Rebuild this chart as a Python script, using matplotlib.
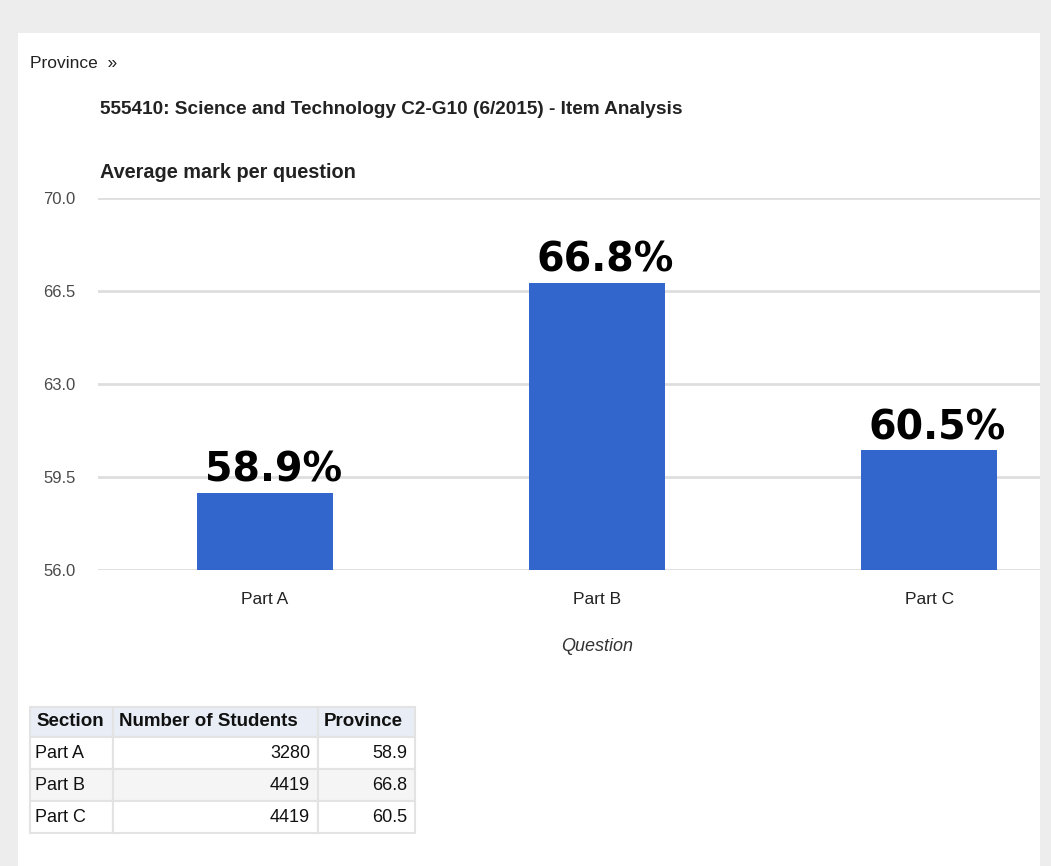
import matplotlib.pyplot as plt
from matplotlib.patches import Rectangle
import numpy as np

# data
categories = ["Part A", "Part B", "Part C"]
avg_marks = [58.9, 66.8, 60.5]
num_students = [3280, 4419, 4419]
y_ticks = [56.0, 59.5, 63.0, 66.5, 70.0]
table_header = ["Section", "Number of Students", "Province"]

W, H = 1051, 866
sans = "Liberation Sans"

fig = plt.figure(figsize=(W / 100, H / 100), dpi=100)
fig.patch.set_facecolor("#ededed")


def px_box(x0, y0, x1, y1):
    # pixel box (top-left origin) -> figure fraction rect
    return [x0 / W, 1 - y1 / H, (x1 - x0) / W, (y1 - y0) / H]


# white page panel
fig.patches.append(Rectangle((18 / W, 0), (1040 - 18) / W, 1 - 33 / H,
                             transform=fig.transFigure, facecolor="white",
                             edgecolor="none", zorder=-5))

fig.text(30 / W, 1 - 63 / H, "Province  \u00bb", fontsize=12.5, family=sans,
         color="#222222", va="center", ha="left")
fig.text(100 / W, 1 - 110 / H,
         "555410: Science and Technology C2-G10 (6/2015) - Item Analysis",
         fontsize=13.7, family=sans, weight="bold", color="#222222",
         va="center", ha="left")
fig.text(100 / W, 1 - 173 / H, "Average mark per question", fontsize=14.3,
         family=sans, weight="bold", color="#222222", va="center", ha="left")

# bar chart
ax = fig.add_axes(px_box(98, 198, 1040, 570))
ax.set_facecolor("none")
x = np.arange(len(categories))
ax.bar(x, avg_marks, width=0.41, color="#3366cc", zorder=3)
ax.set_ylim(56, 70)
ax.set_xlim(-0.503, 2.334)
ax.set_yticks(y_ticks)
ax.set_yticklabels([f"{v:.1f}" for v in y_ticks], family=sans,
                   fontsize=12, color="#4a4a4a")
ax.set_xticks(x)
ax.set_xticklabels(categories, family=sans, fontsize=12.5, color="#222222")
ax.tick_params(axis="y", length=0, pad=16)
ax.tick_params(axis="x", length=0, pad=16)
ax.grid(axis="y", color="#dedede", linewidth=2, zorder=0)
ax.set_axisbelow(True)
for s in ax.spines.values():
    s.set_visible(False)
ax.set_xlabel("Question", family=sans, fontsize=13, style="italic",
              color="#333333", labelpad=22)
ax.xaxis.label.set_x((597 - 98) / (1040 - 98))

for xi, v in zip(x, avg_marks):
    ax.annotate(f"{v}%", (xi, v), xytext=(6, 1.5), textcoords="offset points",
                ha="center", va="bottom", fontsize=28.5, weight="bold",
                family="DejaVu Sans", color="black", zorder=5)

# data table
tx = [30, 113, 318, 415]
ty = [707, 737, 769, 801, 833]
for r in range(4):
    for c in range(3):
        x0, x1 = tx[c], tx[c + 1]
        y0, y1 = ty[r], ty[r + 1]
        fc = "#e9eef6" if r == 0 else ("#f5f5f5" if r == 2 else "white")
        fig.patches.append(Rectangle((x0 / W, 1 - y1 / H), (x1 - x0) / W,
                                     (y1 - y0) / H, transform=fig.transFigure,
                                     facecolor=fc, edgecolor="#e3e3e3",
                                     linewidth=1.5, zorder=1))
for c, lab in enumerate(table_header):
    fig.text((tx[c] + 6) / W, 1 - (ty[0] + ty[1]) / 2 / H, lab, fontsize=13.5,
             family=sans, weight="bold", color="#111111", va="center",
             ha="left", zorder=3)
for r in range(len(categories)):
    yc = 1 - (ty[r + 1] + ty[r + 2]) / 2 / H
    fig.text((tx[0] + 5) / W, yc, categories[r], fontsize=13, family=sans,
             color="#111111", va="center", ha="left", zorder=3)
    fig.text((tx[2] - 8) / W, yc, str(num_students[r]), fontsize=13,
             family=sans, color="#111111", va="center", ha="right", zorder=3)
    fig.text((tx[3] - 8) / W, yc, f"{avg_marks[r]}", fontsize=13,
             family=sans, color="#111111", va="center", ha="right", zorder=3)

fig.savefig("out.png", dpi=100, facecolor=fig.get_facecolor())
